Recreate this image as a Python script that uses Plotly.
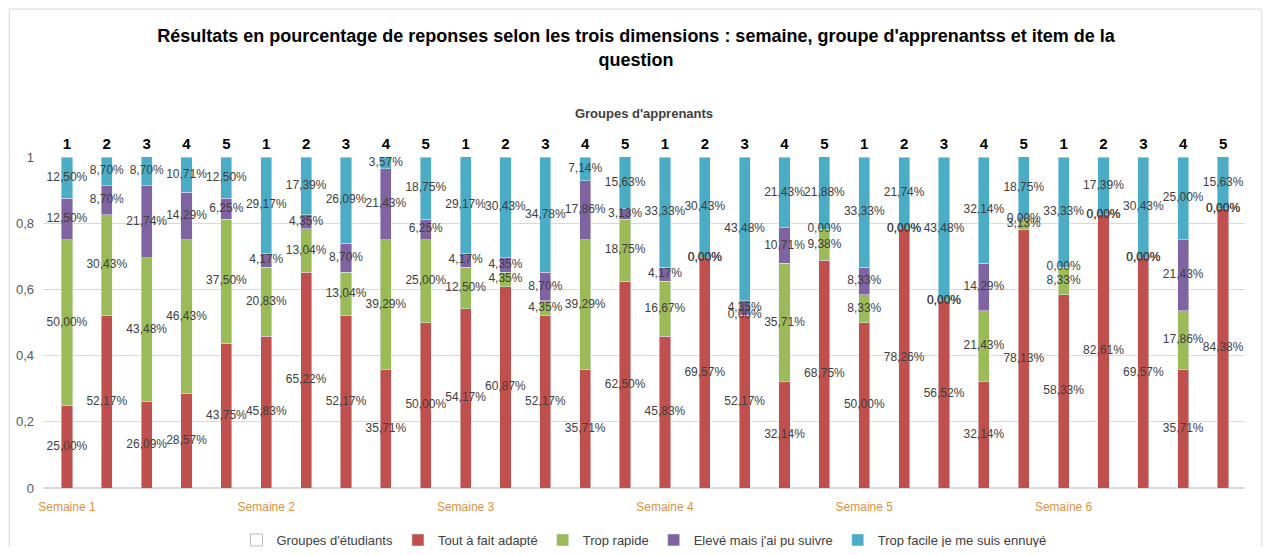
import plotly.graph_objects as go

# Results per bar, in %, 6 weeks x 5 groups
weeks = ["Semaine 1", "Semaine 2", "Semaine 3", "Semaine 4", "Semaine 5", "Semaine 6"]
groups = ["1", "2", "3", "4", "5"]

tout_a_fait = [25.00, 52.17, 26.09, 28.57, 43.75,
               45.83, 65.22, 52.17, 35.71, 50.00,
               54.17, 60.87, 52.17, 35.71, 62.50,
               45.83, 69.57, 52.17, 32.14, 68.75,
               50.00, 78.26, 56.52, 32.14, 78.13,
               58.33, 82.61, 69.57, 35.71, 84.38]
trop_rapide = [50.00, 30.43, 43.48, 46.43, 37.50,
               20.83, 13.04, 13.04, 39.29, 25.00,
               12.50, 4.35, 4.35, 39.29, 18.75,
               16.67, 0.00, 0.00, 35.71, 9.38,
               8.33, 0.00, 0.00, 21.43, 3.13,
               8.33, 0.00, 0.00, 17.86, 0.00]
eleve = [12.50, 8.70, 21.74, 14.29, 6.25,
         4.17, 4.35, 8.70, 21.43, 6.25,
         4.17, 4.35, 8.70, 17.86, 3.13,
         4.17, 0.00, 4.35, 10.71, 0.00,
         8.33, 0.00, 0.00, 14.29, 0.00,
         0.00, 0.00, 0.00, 21.43, 0.00]
trop_facile = [12.50, 8.70, 8.70, 10.71, 12.50,
               29.17, 17.39, 26.09, 3.57, 18.75,
               29.17, 30.43, 34.78, 7.14, 15.63,
               33.33, 30.43, 43.48, 21.43, 21.88,
               33.33, 21.74, 43.48, 32.14, 18.75,
               33.33, 17.39, 30.43, 25.00, 15.63]

series = [
    ("Tout à fait adapté", tout_a_fait, "#C0504D"),
    ("Trop rapide", trop_rapide, "#9BBB59"),
    ("Elevé mais j'ai pu suivre", eleve, "#8064A2"),
    ("Trop facile je me suis ennuyé", trop_facile, "#4BACC6"),
]

n = len(weeks) * len(groups)
xs = list(range(n))
xrange_ = [-0.6, n - 0.45]

fig = go.Figure()

# dummy legend entry
fig.add_trace(go.Bar(x=[None], y=[None], name="Groupes d'étudiants",
                     marker=dict(color="white", line=dict(color="#bbbbbb", width=1))))

base = [0.0] * n
for name, vals, color in series:
    fr = [v / 100 for v in vals]
    fig.add_trace(go.Bar(x=xs, y=fr, name=name, marker_color=color, width=0.28))
    mids = [b + f / 2 for b, f in zip(base, fr)]
    labels = [f"{v:.2f}".replace(".", ",") + "%" for v in vals]
    fig.add_trace(go.Scatter(x=xs, y=mids, mode="text", text=labels, xaxis="x2",
                             textfont=dict(size=12, color="#404040"),
                             showlegend=False, hoverinfo="skip"))
    base = [b + f for b, f in zip(base, fr)]

# page body adds an 8px margin, so the figure is 16px smaller than the window
fig.update_layout(
    barmode="stack",
    width=1256, height=539,
    margin=dict(l=35, r=19, t=149, b=59),
    paper_bgcolor="white", plot_bgcolor="white",
    separators=",.",
    font=dict(family="Liberation Sans, Arial, sans-serif", color="#404040"),
    title=dict(text="<b>Résultats en pourcentage de reponses selon les trois dimensions : semaine, groupe d'apprenantss et item de la<br>question</b>",
               x=0.5, xref="container", xanchor="center", y=0.936, yref="container",
               yanchor="top", font=dict(size=18, color="black")),
    xaxis=dict(range=xrange_, tickvals=[i * len(groups) for i in range(len(weeks))],
               ticktext=weeks, showgrid=False, showline=False, zeroline=False,
               ticks="", ticklabelstandoff=10, automargin=False,
               tickfont=dict(size=12, color="#E0913A", family="Liberation Sans, Arial, sans-serif")),
    xaxis2=dict(range=xrange_, overlaying="x", side="top", anchor="y",
                tickvals=xs, ticktext=groups * len(weeks), automargin=False,
                showgrid=False, showline=False, zeroline=False, ticks="",
                ticklabelstandoff=4,
                tickfont=dict(size=15, color="black", weight="bold"),
                title=dict(text="<b>Groupes d'apprenants</b>", standoff=13,
                           font=dict(size=13, color="#404040"))),
    yaxis=dict(range=[0, 1], dtick=0.2, gridcolor="#d9d9d9", zeroline=True,
               zerolinecolor="#d9d9d9", showline=False, ticks="", automargin=False,
               ticklabelstandoff=8, tickfont=dict(size=13, color="#595959")),
    legend=dict(orientation="h", x=0.5, xanchor="center", xref="paper",
                y=0.013, yanchor="middle", yref="container",
                bgcolor="rgba(0,0,0,0)",
                font=dict(size=13, color="#404040"), itemwidth=30, traceorder="normal"),
    shapes=[dict(type="rect", xref="paper", yref="paper", x0=-0.028, x1=1.014,
                 y0=-0.22, y1=1.447, line=dict(color="#d9d9d9", width=1),
                 fillcolor="rgba(0,0,0,0)", layer="below")],
)

fig.write_html("out.html")
